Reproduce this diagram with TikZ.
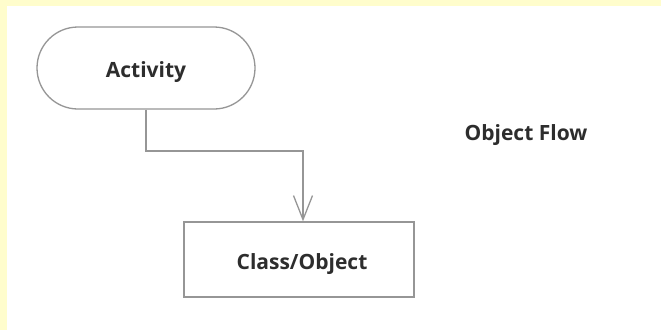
\documentclass[tikz,border=0pt]{standalone}
\usepackage{fontspec}
\setmainfont{Open Sans}
\usetikzlibrary{arrows.meta}
\definecolor{pagebg}{RGB}{255,253,204}
\definecolor{edge}{RGB}{150,150,150}
\definecolor{ink}{RGB}{45,45,45}
\tikzset{
  label text/.style={font=\bfseries\fontsize{21}{25}\selectfont, text=ink},
  activity/.style={draw=edge, line width=1.3pt, rounded corners=41pt,
    minimum width=218pt, minimum height=82pt},
  objbox/.style={draw=edge, line width=1.3pt,
    minimum width=230pt, minimum height=75pt},
  flow/.style={draw=edge, line width=1.3pt, -{Straight Barb[length=24pt, width=19pt, line width=1.3pt]}},
}
\begin{document}
\begin{tikzpicture}[x=1pt, y=-1pt]
  % page: pale yellow margin on top and left, white sheet
  \fill[pagebg] (0,0) rectangle (661,330);
  \fill[white] (7,6) rectangle (661,330);
  \useasboundingbox (0,0) rectangle (661,330);

  \node[activity] (act) at (146,68) {};
  \node[label text] (actlabel) at ([yshift=-4.5pt]act.center) {Activity};

  \node[objbox] (obj) at (299,259.5) {};
  \node[label text] (objlabel) at ([xshift=3pt,yshift=-4.5pt]obj.center) {Class/Object};

  % object flow connector
  \coordinate (bend1) at (146,151);
  \coordinate (bend2) at (303,151);
  \draw[flow] (act.south) -- (bend1) -- (bend2) -- (bend2 |- obj.north);

  \node[label text] (title) at (526,135) {Object Flow};
\end{tikzpicture}
\end{document}
